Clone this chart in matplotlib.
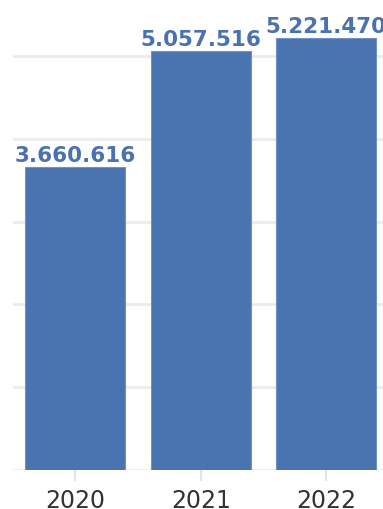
import matplotlib
matplotlib.use("Agg")
import matplotlib.pyplot as plt

# data
years = ["2020", "2021", "2022"]
values = [3660616, 5057516, 5221470]
labels = ["3.660.616", "5.057.516", "5.221.470"]
gridlines = [0, 1e6, 2e6, 3e6, 4e6, 5e6]

bar_color = "#4a74b0"
label_color = "#4a72b0"

fig = plt.figure(figsize=(3.83, 5.10), dpi=100)
# axes runs a little past the right edge, like the cropped original
ax = fig.add_axes([12.5 / 383, 39 / 510, 376.5 / 383, 471 / 510])

x = range(len(years))
ax.bar(x, values, width=0.8, color=bar_color, edgecolor="#6f93c6", linewidth=0.8, zorder=2)

for xi, v, lab in zip(x, values, labels):
    ax.annotate(lab, (xi, v), xytext=(0, 1.5), textcoords="offset points",
                ha="center", va="bottom", fontsize=15.5, fontweight="bold",
                color=label_color, zorder=3, annotation_clip=False)

ax.set_xlim(-0.5, 2.5)
ax.set_ylim(0, 5.688e6)
ax.set_yticks(gridlines)
ax.set_yticklabels([])
ax.tick_params(axis="y", length=0)
ax.set_xticks(list(x))
ax.set_xticklabels(years, fontsize=17, color="#333333")
ax.tick_params(axis="x", length=8, width=1.5, color="#e4e4e4", pad=5)
ax.grid(axis="y", color="#ebebeb", linewidth=2, zorder=0)
for s in ax.spines.values():
    s.set_visible(False)

fig.savefig("out.png", dpi=100)
